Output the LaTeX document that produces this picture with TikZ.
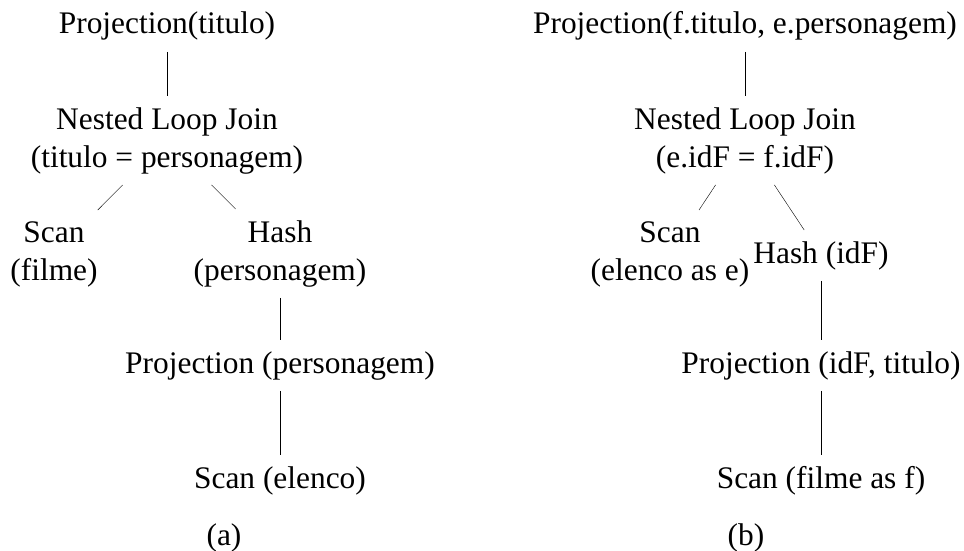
\documentclass[tikz,border=0pt]{standalone}
\usepackage{fontspec}
\setmainfont{Liberation Serif}
\begin{document}
\begin{tikzpicture}[x=1pt,y=-1pt,
  op/.style={align=center,inner sep=11pt,anchor=base,font=\fontsize{31.4}{38}\selectfont},
  subcap/.style={inner sep=0pt,anchor=base,font=\fontsize{31.4}{38}\selectfont}]
\useasboundingbox (0,0) rectangle (964,551);
% plan (a)
\node[op] (pa) at (167,34) {Projection(titulo)};
\node[op] (ja) at (167,167) {Nested Loop Join\\(titulo = personagem)};
\node[op] (sa) at (54,280) {Scan\\(filme)};
\node[op] (ha) at (280,280) {Hash\\(personagem)};
\node[op] (qa) at (280,373) {Projection (personagem)};
\node[op] (ta) at (280,488) {Scan (elenco)};
\draw (pa) -- (ja);
\draw (ja) -- (sa);
\draw (ja) -- (ha);
\draw (ha) -- (qa);
\draw (qa) -- (ta);
\node[subcap] (capa) at (224,545) {(a)};
% plan (b)
\node[op] (pb) at (745,34) {Projection(f.titulo, e.personagem)};
\node[op] (jb) at (745,167) {Nested Loop Join\\(e.idF = f.idF)};
\node[op] (sb) at (670,280) {Scan\\(elenco as e)};
\node[op] (hb) at (821,263) {Hash (idF)};
\node[op] (qb) at (821,373) {Projection (idF, titulo)};
\node[op] (tb) at (821,488) {Scan (filme as f)};
\draw (pb) -- (jb);
\draw (jb) -- (sb);
\draw (jb) -- (hb);
\draw (hb) -- (qb);
\draw (qb) -- (tb);
\node[subcap] (capb) at (746,545) {(b)};
\end{tikzpicture}
\end{document}
